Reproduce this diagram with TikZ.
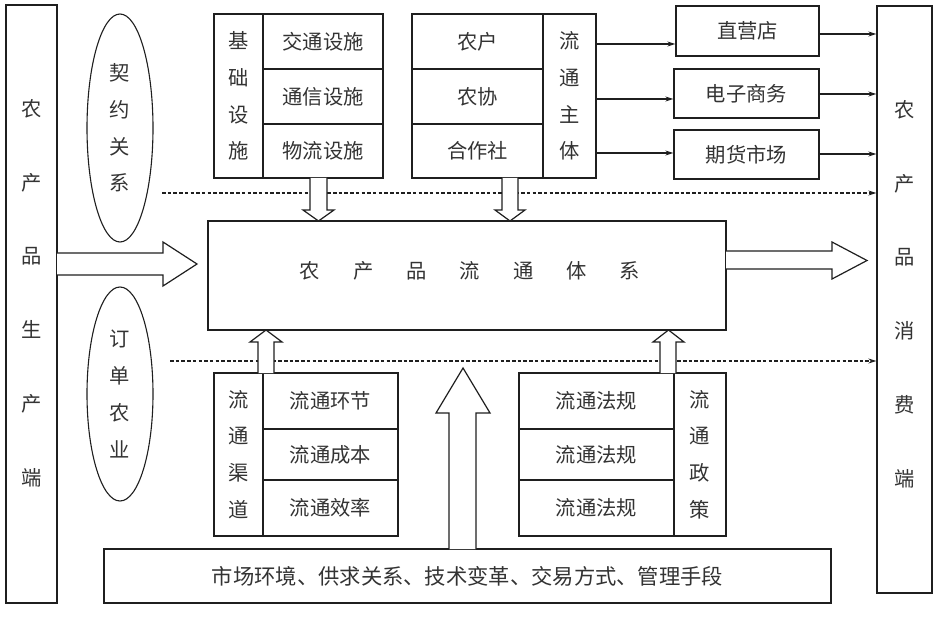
\documentclass[tikz,border=0pt]{standalone}
\usepackage{fontspec}
\newfontfamily\cjk{Noto Sans CJK SC}
\usetikzlibrary{arrows.meta,shapes.geometric}
\begin{document}
\begin{tikzpicture}[x=1pt,y=-1pt,
  every node/.style={font=\cjk\fontsize{20.3}{24}\selectfont, text=black!80, inner sep=0pt},
  box/.style={draw=black!88, line width=1.3pt, rectangle},
  vtext/.style={align=center, font=\cjk\fontsize{20.3}{36.7}\selectfont},
  bartext/.style={align=center, font=\cjk\fontsize{20.3}{73.8}\selectfont},
  thinarrow/.style={draw=black!88, line width=1.2pt, -{Stealth[length=8pt,width=5pt]}},
  dashline/.style={draw=black!88, line width=1.2pt, dash pattern=on 3.5pt off 2.2pt, -{Stealth[length=8pt,width=5pt]}},
  hollow/.style={draw=black!88, line width=1.2pt, fill=white, line join=miter}
]
\useasboundingbox (0,0) rectangle (937,620);
\fill[white] (0,0) rectangle (937,620);

% side bars
\node[box, minimum width=51, minimum height=598] (lbar) at (31.5,304) {};
\node[bartext] (lbartxt) at (31.5,293) {农\\产\\品\\生\\产\\端};
\node[box, minimum width=55, minimum height=587] (rbar) at (904.5,299.5) {};
\node[bartext] (rbartxt) at (904.5,294) {农\\产\\品\\消\\费\\端};

% ellipses
\node[ellipse, draw=black!88, line width=1.1pt, minimum width=66, minimum height=228, vtext] (qy) at (120,128) {契\\约\\关\\系};
\node[ellipse, draw=black!88, line width=1.1pt, minimum width=66, minimum height=214, vtext] (dd) at (120,394) {订\\单\\农\\业};

% dashed lines
\coordinate (d1s) at (162,193);
\coordinate (d2s) at (170,361);
\draw[dashline] (d1s) -- (rbar.west |- d1s);
\draw[dashline] (d2s) -- (rbar.west |- d2s);

% infrastructure block
\node[box, minimum width=49, minimum height=164, vtext] (jc) at (238.5,96) {基\\础\\设\\施};
\node[box, minimum width=120, minimum height=55] (jt) at (323,41.5) {交通设施};
\node[box, minimum width=120, minimum height=55] (tx) at (323,96.5) {通信设施};
\node[box, minimum width=120, minimum height=54] (wl) at (323,151) {物流设施};

% subjects block
\node[box, minimum width=131, minimum height=55] (nh) at (477.5,41.5) {农户};
\node[box, minimum width=131, minimum height=55] (nx) at (477.5,96.5) {农协};
\node[box, minimum width=131, minimum height=54] (hz) at (477.5,151) {合作社};
\node[box, minimum width=53, minimum height=164, vtext] (zt) at (569.5,96) {流\\通\\主\\体};

% market boxes
\node[box, minimum width=143, minimum height=50] (zyd) at (747.5,31) {直营店};
\node[box, minimum width=145, minimum height=49] (dz) at (746.5,93.5) {电子商务};
\node[box, minimum width=145, minimum height=49] (qh) at (746.5,154.5) {期货市场};

\draw[thinarrow] (zt.east |- 0,44) -- (zyd.west |- 0,44);
\draw[thinarrow] (zt.east |- 0,99) -- (dz.west |- 0,99);
\draw[thinarrow] (zt.east |- 0,153) -- (qh.west |- 0,153);
\draw[thinarrow] (zyd.east |- 0,34) -- (rbar.west |- 0,34);
\draw[thinarrow] (dz.east |- 0,94) -- (rbar.west |- 0,94);
\draw[thinarrow] (qh.east |- 0,154) -- (rbar.west |- 0,154);

% central box
\node[box, minimum width=518, minimum height=109] (ctr) at (467,275.5) {};
\node (ctrtxt) at (470,271) {农\hspace{33pt}产\hspace{33pt}品\hspace{33pt}流\hspace{33pt}通\hspace{33pt}体\hspace{33pt}系};

% channel block
\node[box, minimum width=49, minimum height=163, vtext] (qd) at (238.5,454.5) {流\\通\\渠\\道};
\node[box, minimum width=135, minimum height=56] (hj) at (330.5,401) {流通环节};
\node[box, minimum width=135, minimum height=51] (cb) at (330.5,454.5) {流通成本};
\node[box, minimum width=135, minimum height=56] (xl) at (330.5,508) {流通效率};

% policy block
\node[box, minimum width=155, minimum height=56] (fg1) at (596.5,401) {流通法规};
\node[box, minimum width=155, minimum height=51] (fg2) at (596.5,454.5) {流通法规};
\node[box, minimum width=155, minimum height=56] (fg3) at (596.5,508) {流通法规};
\node[box, minimum width=52, minimum height=163, vtext] (zc) at (700,454.5) {流\\通\\政\\策};

% bottom box
\node[box, minimum width=727, minimum height=54, font=\cjk\fontsize{21.3}{24}\selectfont] (env) at (467.5,576) {市场环境、供求关系、技术变革、交易方式、管理手段};

% hollow arrows
% left big arrow
\draw[hollow] (57,253) -- (163,253) -- (163,242) -- (197,264) -- (163,286) -- (163,275) -- (57,275);
% right big arrow
\draw[hollow] (726,251) -- (832,251) -- (832,242) -- (867,260.5) -- (832,279) -- (832,269) -- (726,269);
% down arrows
\draw[hollow] (310,178) -- (310,210) -- (303,210) -- (318.5,221) -- (334,210) -- (327,210) -- (327,178);
\draw[hollow] (502,178) -- (502,210) -- (495,210) -- (510,221) -- (525,210) -- (518,210) -- (518,178);
% up arrows
\draw[hollow] (258,373) -- (258,342) -- (250,342) -- (266,330) -- (282,342) -- (274,342) -- (274,373);
\draw[hollow] (660,373) -- (660,342) -- (653,342) -- (668.5,330) -- (684,342) -- (676,342) -- (676,373);
% big middle up arrow
\draw[hollow] (449,549) -- (449,413) -- (436,413) -- (463,368) -- (490,413) -- (476,413) -- (476,549);
\end{tikzpicture}
\end{document}
